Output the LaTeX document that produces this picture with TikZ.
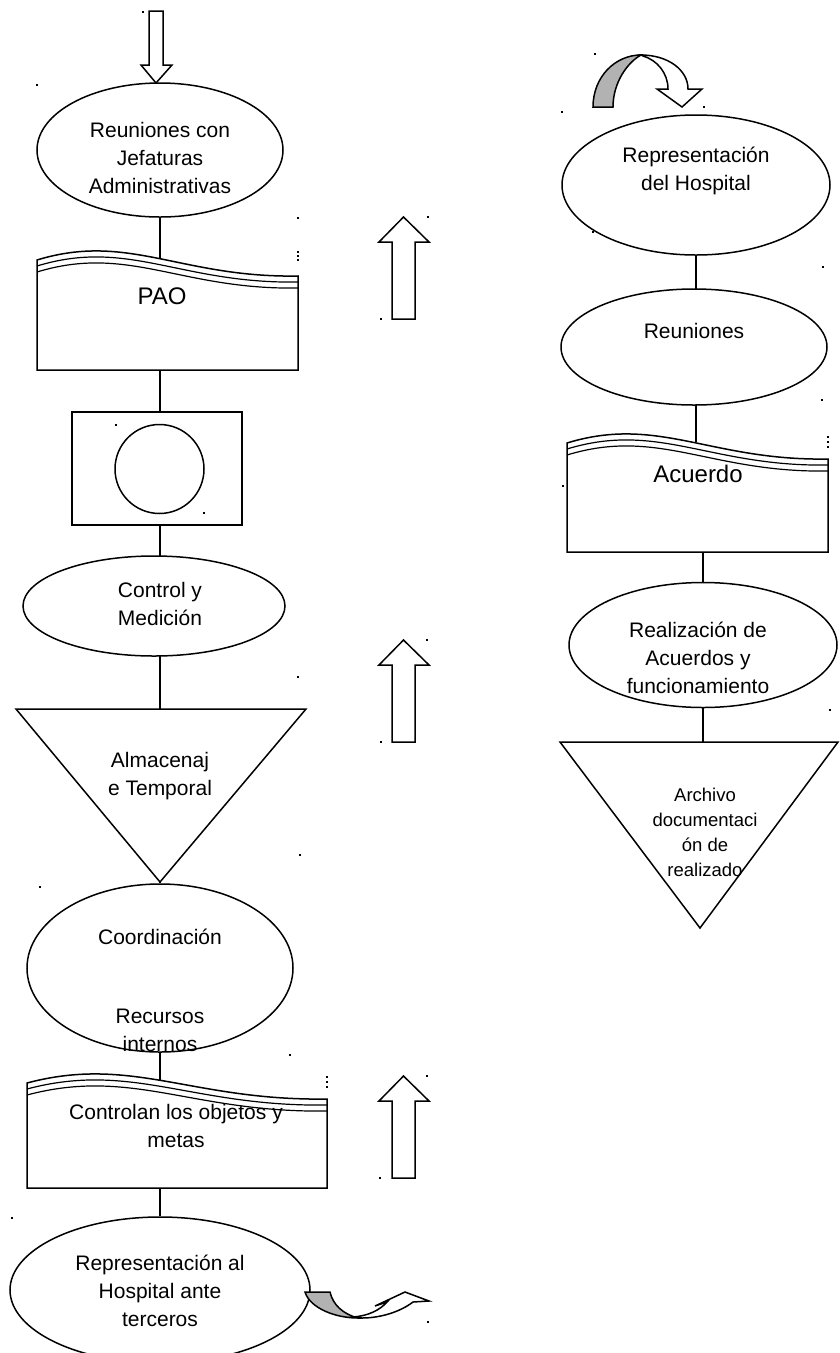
\documentclass[tikz,border=0pt]{standalone}
\usepackage{fontspec}
\setmainfont{Liberation Sans}
\usetikzlibrary{shapes.geometric}
\newcommand{\docshape}[4]{% L, y0, R, bottom
  \filldraw[fill=white] (#1,#2) .. controls ({#1+0.35*(#3-#1)},{#2-28}) and ({#1+0.55*(#3-#1)},{#2+18}) .. (#3,{#2+16}) -- (#3,#4) -- (#1,#4) -- cycle;
  \draw[line width=1.2pt] (#1,{#2+6}) .. controls ({#1+0.35*(#3-#1)},{#2-22}) and ({#1+0.55*(#3-#1)},{#2+24}) .. (#3,{#2+22});
  \draw[line width=1.2pt] (#1,{#2+12}) .. controls ({#1+0.35*(#3-#1)},{#2-16}) and ({#1+0.55*(#3-#1)},{#2+30}) .. (#3,{#2+28});
}
\begin{document}
\begin{tikzpicture}[x=1pt,y=-1pt,line width=1.5pt,line join=miter,
  ell/.style={draw,ellipse,inner sep=0pt,fill=white},
  txt/.style={align=center,inner sep=0pt,font=\fontsize{21}{28}\selectfont},
  bigtxt/.style={align=center,inner sep=0pt,font=\fontsize{24}{28}\selectfont},
  smalltxt/.style={align=center,inner sep=0pt,font=\fontsize{18.5}{25}\selectfont},
  speck/.style={fill=black},
  link/.style={draw,line width=1.5pt},
  blockarrow/.style={draw,fill=white,line width=1.5pt},
  uparrow/.pic={\path[blockarrow] (-11.5,102) -- (-11.5,25) -- (-24.5,25) -- (0,0) -- (25.5,25) -- (11.5,25) -- (11.5,102) -- cycle;}
  ]
\useasboundingbox (0,0) rectangle (840,1353);

% ---------- left column ----------
\path[blockarrow] (149,11) -- (163,11) -- (163,65) -- (172,65) -- (156,83) -- (141,65) -- (149,65) -- cycle;
\node[ell,minimum width=246pt,minimum height=134pt] (e1) at (160,150) {};
\node[txt] (t1) at (160,158) {Reuniones con\\Jefaturas\\Administrativas};

\docshape{37}{260}{298}{370}
\coordinate (paotop) at (160,258.5);
\coordinate (paobot) at (160,370);
\node[bigtxt] (pao) at (162,296) {PAO};

\node[draw,fill=white,minimum width=170pt,minimum height=113pt,inner sep=0pt] (box) at (157,468.5) {};
\node[draw,circle,minimum size=89pt,inner sep=0pt] (circ) at (159.5,469) {};
\coordinate (boxtop) at (160,412);
\coordinate (boxbot) at (160,525);

\node[ell,minimum width=262pt,minimum height=100pt] (e2) at (154,606) {};
\node[txt] (t2) at (160,604) {Control y\\Medición};
\coordinate (e2top) at (160,556.3);
\coordinate (e2bot) at (160,655.7);

\filldraw[fill=white] (16,709) -- (306,709) -- (160,882) -- cycle;
\coordinate (tri1top) at (160,709);
\coordinate (tri1tip) at (160,882);
\node[txt] (t3) at (160,776) {Almacenaj\\e Temporal};

\node[ell,minimum width=266pt,minimum height=168pt] (e3) at (160,968) {};
\node[txt] (t4a) at (160,937) {Coordinación};
\node[txt] (t4b) at (160,1030) {Recursos\\internos};

\docshape{27}{1083}{327}{1188}
\coordinate (d2top) at (160,1080.3);
\coordinate (d2bot) at (160,1188);
\node[txt] (t5) at (176,1126) {Controlan los objetos y\\metas};

\node[ell,minimum width=300pt,minimum height=146pt] (e4) at (160,1290) {};
\node[txt] (t6) at (160,1291) {Representación al\\Hospital ante\\terceros};

% bottom curved arrow
\filldraw[fill=gray!60] (305,1292) -- (330,1292) .. controls (333,1305) and (343,1314) .. (358,1318) .. controls (335,1318) and (310,1308) .. (305,1292) -- cycle;
\filldraw[fill=white] (353,1317) .. controls (368,1316) and (380,1310) .. (387,1302) -- (375,1306) -- (405,1292) -- (429,1301) -- (413,1302) .. controls (400,1312) and (380,1318) .. (362,1318) -- cycle;

% up arrows
\pic at (403.5,217) {uparrow};
\pic at (403.5,640) {uparrow};
\pic at (403.5,1076) {uparrow};

% ---------- right column ----------
\filldraw[fill=gray!60] (593,107) .. controls (593,77) and (615,55) .. (641,55) .. controls (628,62) and (613,82) .. (613,107) -- cycle;
\filldraw[fill=white] (641,55) .. controls (668,55) and (688,70) .. (688,89) -- (702,89) -- (682,107) -- (657,89) -- (668,89) .. controls (668,73) and (657,60) .. (643,56) -- cycle;

\node[ell,minimum width=268pt,minimum height=140pt] (r1) at (696,185) {};
\node[txt] (rt1) at (696,171) {Representación\\del Hospital};

\node[ell,minimum width=266pt,minimum height=116pt] (r2) at (694,347) {};
\node[txt] (rt2) at (694,331) {Reuniones};
\coordinate (r2top) at (696,289);
\coordinate (r2bot) at (696,405);

\docshape{567}{443}{828}{552}
\coordinate (d3top) at (696,442.2);
\coordinate (d3bot) at (703,552);
\node[bigtxt] (rt3) at (698,474) {Acuerdo};

\node[ell,minimum width=268pt,minimum height=125pt] (r3) at (703,645) {};
\node[txt] (rt4) at (698,658) {Realización de\\Acuerdos y\\funcionamiento};

\filldraw[fill=white] (560,742) -- (838,742) -- (700,928) -- cycle;
\coordinate (tri2top) at (703,742);
\node[smalltxt] (rt5) at (705,832) {Archivo\\documentaci\\ón de\\realizado};

% ---------- connectors ----------
\draw[link] (e1.south) -- (paotop);
\draw[link] (paobot) -- (boxtop);
\draw[link] (boxbot) -- (e2top);
\draw[link] (e2bot) -- (tri1top);
\draw[link] (tri1tip) -- (e3.north);
\draw[link] (e3.south) -- (d2top);
\draw[link] (d2bot) -- (e4.north);
\draw[link] (r1.south) -- (r2top);
\draw[link] (r2bot) -- (d3top);
\draw[link] (d3bot) -- (r3.north);
\draw[link] (r3.south) -- (tri2top);

% ---------- specks ----------
\foreach \x/\y in {143/12, 37/85, 298/218, 298/252, 298/256, 298/260, 428/217, 381/319, 116/425, 204/513,
  595/54, 704/107, 562/112, 593/232, 823/267, 822/400, 828/437, 828/442, 828/447, 563/486, 427/640, 381/742,
  298/677, 830/710, 300/855, 40/887, 290/1055, 327/1077, 327/1082, 327/1087, 427/1076, 380/1178, 12/1218, 428/1322}
  \fill[speck] (\x-1.3,\y-1) rectangle (\x+1.3,\y+1);
\end{tikzpicture}
\end{document}
